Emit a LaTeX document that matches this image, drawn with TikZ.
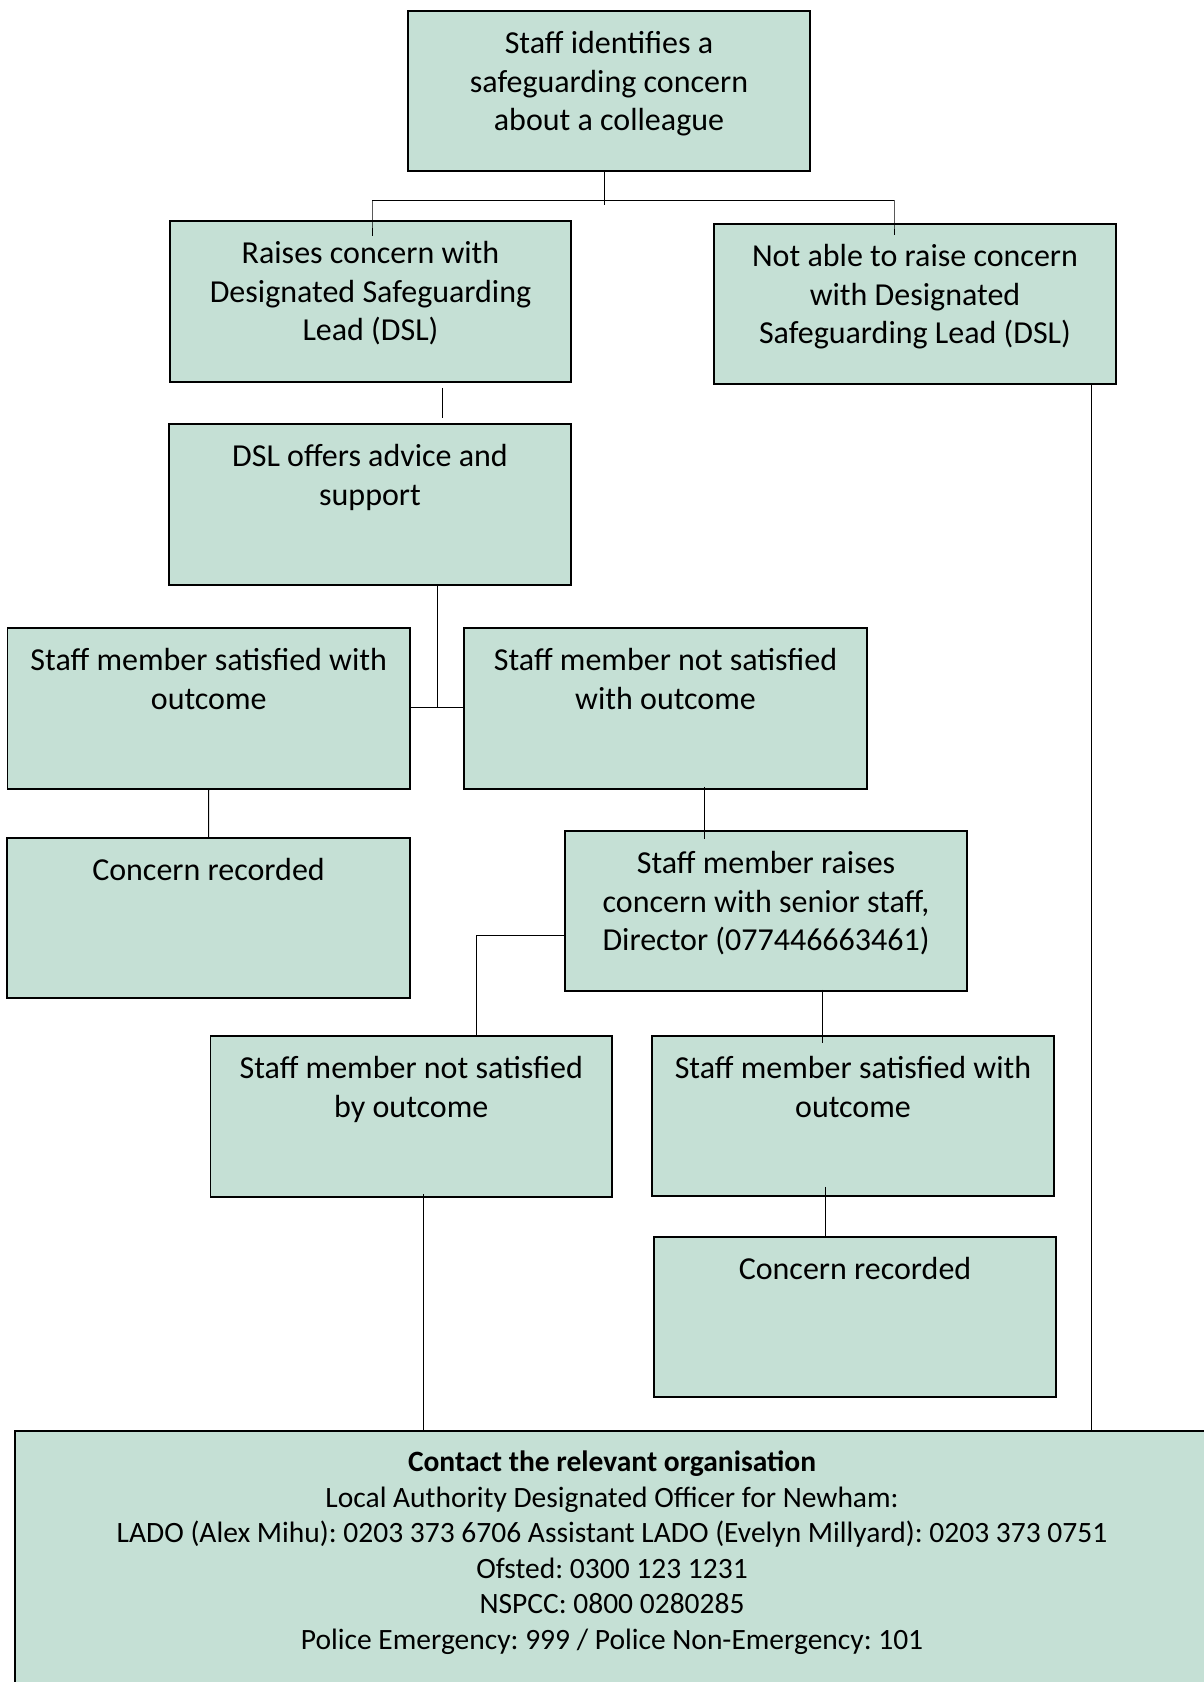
\documentclass[tikz,border=0pt]{standalone}
\usepackage{fontspec}
\setmainfont{Carlito}
\frenchspacing
\usetikzlibrary{fit}
\definecolor{boxfill}{RGB}{197,224,213}
\newcommand{\flowbox}[6]{%
  \coordinate (#1-a) at (#2,#3);
  \coordinate (#1-b) at (#4,#5);
  \node[box, fit=(#1-a)(#1-b)] (#1) {};
  \node[txt] (#1-t) at ([yshift=-8.5pt]#1.north) {\rule{0pt}{13pt}#6};
}
\begin{document}
\begin{tikzpicture}[x=0.5pt,y=-0.5pt,
  box/.style={draw=black, fill=boxfill, line width=0.8pt, inner sep=0pt},
  txt/.style={align=center, inner sep=0pt, anchor=north, font=\fontsize{16}{19.25}\selectfont},
  bottomtxt/.style={align=center, inner sep=0pt, anchor=north, font=\fontsize{14.75}{17.8}\selectfont},
  conn/.style={draw=black, line width=0.5pt}]
\clip (0,0) rectangle (1204,1682);
\useasboundingbox (0,0) rectangle (1204,1682);

\flowbox{top}{408}{11}{810}{171}{Staff identifies a\\safeguarding concern\\about a colleague}
\flowbox{raises}{170}{221}{571}{382}{Raises concern with\\Designated Safeguarding\\Lead (DSL)}
\flowbox{notable}{714}{224}{1116}{384}{Not able to raise concern\\with Designated\\Safeguarding Lead (DSL)}
\flowbox{dsl}{169}{424}{571}{585}{DSL offers advice and\\support}
\flowbox{sat1}{7.5}{628}{410}{789}{Staff member satisfied with\\outcome}
\flowbox{notsat1}{464}{628}{867}{789}{Staff member not satisfied\\with outcome}
\flowbox{concern1}{7}{838}{410}{998}{Concern recorded}
\flowbox{senior}{565}{831}{967}{991}{Staff member raises\\concern with senior staff,\\Director (077446663461)}
\flowbox{notsatby}{210.5}{1036}{612}{1197}{Staff member not satisfied\\by outcome}
\flowbox{sat2}{652}{1036}{1054}{1196}{Staff member satisfied with\\outcome}
\flowbox{concern2}{654}{1237}{1056}{1397}{Concern recorded}

\coordinate (bottom-a) at (15,1431);
\coordinate (bottom-b) at (1240,1720);
\node[box, fit=(bottom-a)(bottom-b)] (bottom) {};
\node[bottomtxt] (bottom-t) at (612,1445) {\rule{0pt}{13pt}\textbf{Contact the relevant organisation}\\
Local Authority Designated Officer for Newham:\\
LADO (Alex Mihu): 0203 373 6706 Assistant LADO (Evelyn Millyard): 0203 373 0751\\
Ofsted: 0300 123 1231\\
NSPCC: 0800 0280285\\
Police Emergency: 999 / Police Non-Emergency: 101};

% connectors
\coordinate (bar-l) at (372,200);
\coordinate (bar-r) at (894,200);
\draw[conn] ([xshift=-2.5pt]top.south) -- ++(0,33);
\draw[conn] (bar-l) -- (bar-r);
\draw[conn] (bar-l) -- (bar-l |- raises.north) -- ++(0,16);
\draw[conn] (bar-r) -- (bar-r |- notable.north) -- ++(0,12);
\draw[conn] ([xshift=35.75pt,yshift=-2.5pt]raises.south) -- ([xshift=36pt,yshift=2.5pt]dsl.north);
\coordinate (j2) at (437,707);
\draw[conn] ([xshift=33.5pt]dsl.south) -- (j2);
\draw[conn] (sat1.east |- j2) -- (notsat1.west |- j2);
\draw[conn] (sat1.south) -- (concern1.north);
\draw[conn] ([xshift=19.25pt,yshift=1.5pt]notsat1.south) -- ++(0,52);
\coordinate (j3) at (476,935.5);
\draw[conn] (senior.west |- j3) -- (j3) -- (j3 |- notsatby.north);
\draw[conn] ([xshift=28pt,yshift=1pt]senior.south) -- ++(0,53);
\draw[conn] ([xshift=-14pt,yshift=5pt]sat2.south) -- ([xshift=-15pt,yshift=-1pt]concern2.north);
\coordinate (m1) at (423,1194);
\draw[conn] (m1) -- (m1 |- bottom.north);
\coordinate (n1) at (1091,384);
\draw[conn] (n1) -- (n1 |- bottom.north);
\end{tikzpicture}
\end{document}
